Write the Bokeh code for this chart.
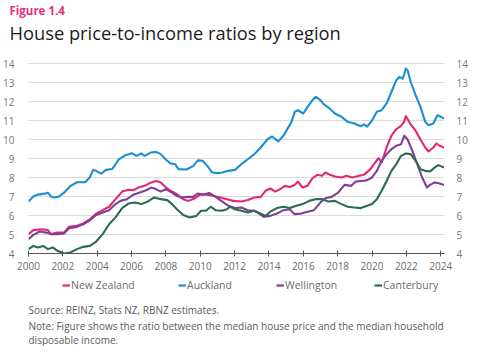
from bokeh.plotting import figure
from bokeh.layouts import column
from bokeh.models import (LinearAxis, FixedTicker, Title, Legend, LegendItem, Range1d, Label)
from bokeh.embed import file_html
from bokeh.resources import INLINE

# ---- data ----
auckland_x = [2000.0, 2000.28, 2000.56, 2000.94, 2001.13, 2001.31, 2001.5, 2001.78, 2002.07, 2002.44,
              2002.82, 2003.29, 2003.57, 2003.76, 2003.94, 2004.23, 2004.51, 2004.88, 2005.26, 2005.63,
              2006.01, 2006.29, 2006.57, 2006.76, 2007.14, 2007.42, 2007.7, 2007.98, 2008.26, 2008.54,
              2008.73, 2009.2, 2009.58, 2009.86, 2010.14, 2010.42, 2010.7, 2010.99, 2011.27, 2011.64,
              2012.02, 2012.39, 2012.77, 2013.15, 2013.52, 2013.9, 2014.18, 2014.55, 2014.84, 2015.1,
              2015.3, 2015.5, 2015.68, 2016.0, 2016.25, 2016.53, 2016.72, 2017.0, 2017.18, 2017.46,
              2017.84, 2018.22, 2018.59, 2018.97, 2019.35, 2019.53, 2019.72, 2020.0, 2020.28, 2020.56,
              2020.85, 2021.13, 2021.41, 2021.6, 2021.79, 2021.97, 2022.07, 2022.25, 2022.54, 2022.82,
              2023.1, 2023.29, 2023.57, 2023.81, 2024.0, 2024.19]
auckland_y = [6.74, 7.0, 7.1, 7.15, 7.2, 7.0, 6.95, 7.0, 7.2, 7.55,
              7.75, 7.75, 8.0, 8.4, 8.35, 8.2, 8.4, 8.45, 8.95, 9.17,
              9.28, 9.14, 9.26, 9.14, 9.32, 9.35, 9.23, 8.96, 8.74, 8.7,
              8.44, 8.42, 8.6, 8.9, 8.88, 8.6, 8.26, 8.23, 8.26, 8.35,
              8.4, 8.7, 8.96, 9.23, 9.58, 10.0, 10.16, 9.9, 10.2, 10.6,
              10.9, 11.45, 11.54, 11.37, 11.72, 12.07, 12.25, 12.07, 11.86, 11.68,
              11.37, 11.2, 10.93, 10.84, 10.7, 10.8, 10.68, 11.0, 11.46, 11.54,
              11.9, 12.5, 13.12, 13.3, 13.2, 13.74, 13.65, 13.04, 12.33, 11.72,
              10.93, 10.75, 10.84, 11.28, 11.2, 11.1]

nz_x = [2000.0, 2000.28, 2000.75, 2001.13, 2001.31, 2001.69, 2002.07, 2002.35, 2002.82, 2003.19,
        2003.57, 2003.94, 2004.32, 2004.69, 2005.07, 2005.45, 2005.82, 2006.1, 2006.39, 2006.76,
        2007.14, 2007.42, 2007.7, 2007.98, 2008.26, 2008.64, 2009.01, 2009.3, 2009.67, 2010.05,
        2010.42, 2010.8, 2011.17, 2011.55, 2011.92, 2012.39, 2012.77, 2013.15, 2013.52, 2013.8,
        2014.08, 2014.37, 2014.65, 2014.93, 2015.21, 2015.49, 2015.68, 2015.96, 2016.24, 2016.53,
        2016.81, 2017.09, 2017.28, 2017.56, 2017.84, 2018.22, 2018.5, 2018.87, 2019.25, 2019.53,
        2019.91, 2020.19, 2020.38, 2020.56, 2020.85, 2021.13, 2021.41, 2021.69, 2021.85, 2021.97,
        2022.25, 2022.54, 2022.82, 2023.1, 2023.29, 2023.57, 2023.76, 2023.94, 2024.19]
nz_y = [5.02, 5.23, 5.28, 5.23, 5.02, 5.1, 5.1, 5.4, 5.46, 5.58,
        5.8, 6.1, 6.28, 6.46, 6.86, 7.26, 7.35, 7.33, 7.47, 7.56,
        7.74, 7.82, 7.74, 7.5, 7.3, 7.12, 6.86, 6.77, 6.9, 7.12,
        7.09, 7.03, 6.95, 6.86, 6.77, 6.74, 6.82, 6.95, 6.98, 7.3,
        7.42, 7.26, 7.39, 7.56, 7.5, 7.6, 7.79, 7.47, 7.56, 7.96,
        8.14, 8.09, 8.26, 8.14, 8.05, 8.0, 8.09, 8.0, 8.09, 8.14,
        8.44, 8.79, 9.02, 8.79, 9.58, 10.2, 10.54, 10.72, 10.9, 11.23,
        10.8, 10.46, 10.0, 9.58, 9.37, 9.58, 9.79, 9.67, 9.58]

wellington_x = [2000.0, 2000.28, 2000.66, 2001.03, 2001.31, 2001.69, 2002.07, 2002.35, 2002.82, 2003.19,
                2003.57, 2003.94, 2004.32, 2004.69, 2005.07, 2005.35, 2005.73, 2006.1, 2006.48, 2006.85,
                2007.14, 2007.42, 2007.7, 2007.98, 2008.26, 2008.64, 2008.92, 2009.2, 2009.58, 2009.86,
                2010.14, 2010.52, 2010.89, 2011.27, 2011.64, 2012.02, 2012.39, 2012.77, 2013.15, 2013.43,
                2013.71, 2014.08, 2014.46, 2014.84, 2015.21, 2015.49, 2015.87, 2016.24, 2016.62, 2016.99,
                2017.28, 2017.65, 2018.03, 2018.4, 2018.78, 2019.06, 2019.44, 2019.72, 2020.0, 2020.28,
                2020.56, 2020.85, 2021.13, 2021.41, 2021.69, 2021.88, 2022.07, 2022.35, 2022.63, 2022.92,
                2023.2, 2023.38, 2023.66, 2023.94, 2024.19]
wellington_y = [4.75, 4.98, 5.16, 5.1, 5.02, 5.02, 5.05, 5.33, 5.4, 5.54,
                5.75, 6.03, 6.16, 6.28, 6.6, 6.77, 6.86, 7.09, 7.21, 7.33,
                7.47, 7.39, 7.26, 7.39, 7.26, 7.03, 6.95, 6.98, 6.98, 7.16,
                7.09, 7.19, 6.98, 6.74, 6.51, 6.39, 6.42, 6.28, 6.25, 6.1,
                5.93, 5.98, 6.1, 6.28, 6.33, 6.07, 6.1, 6.2, 6.28, 6.68,
                6.91, 6.98, 7.21, 7.61, 7.56, 7.79, 7.82, 7.86, 8.0, 8.35,
                8.88, 9.23, 9.49, 9.67, 9.75, 10.2, 10.0, 9.4, 8.7, 8.0,
                7.47, 7.61, 7.74, 7.68, 7.61]

canterbury_x = [2000.0, 2000.28, 2000.56, 2000.85, 2001.13, 2001.41, 2001.69, 2002.07, 2002.44, 2002.82,
                2003.19, 2003.57, 2003.94, 2004.32, 2004.69, 2005.07, 2005.45, 2005.82, 2006.2, 2006.57,
                2006.95, 2007.32, 2007.7, 2008.08, 2008.36, 2008.64, 2009.01, 2009.39, 2009.77, 2010.05,
                2010.33, 2010.61, 2010.89, 2011.27, 2011.55, 2011.74, 2012.02, 2012.39, 2012.77, 2013.15,
                2013.52, 2013.8, 2014.08, 2014.46, 2014.84, 2015.21, 2015.59, 2015.96, 2016.34, 2016.71,
                2017.09, 2017.46, 2017.84, 2018.22, 2018.59, 2018.97, 2019.34, 2019.72, 2020.0, 2020.28,
                2020.56, 2020.85, 2021.13, 2021.41, 2021.69, 2021.97, 2022.25, 2022.54, 2022.82, 2023.1,
                2023.38, 2023.66, 2023.85, 2024.0, 2024.19]
canterbury_y = [4.23, 4.4, 4.32, 4.4, 4.23, 4.32, 4.14, 4.0, 4.05, 4.23,
                4.35, 4.4, 4.63, 5.02, 5.54, 5.9, 6.39, 6.63, 6.68, 6.6,
                6.74, 6.95, 6.86, 6.81, 6.6, 6.33, 6.03, 5.9, 5.98, 6.25,
                6.25, 6.46, 6.28, 6.25, 6.33, 6.46, 6.33, 6.25, 6.16, 6.25,
                6.1, 5.98, 6.2, 6.39, 6.46, 6.39, 6.51, 6.6, 6.77, 6.86,
                6.86, 6.74, 6.77, 6.6, 6.46, 6.42, 6.39, 6.51, 6.6, 6.86,
                7.3, 7.82, 8.35, 8.7, 9.14, 9.26, 9.23, 8.88, 8.44, 8.35,
                8.32, 8.53, 8.65, 8.6, 8.53]

series_names = ["New Zealand", "Auckland", "Wellington", "Canterbury"]
series_colors = ["#e4286e", "#1b8fd2", "#7f3f98", "#2a6b55"]
x_ticks = list(range(2000, 2025, 2))
y_ticks = list(range(4, 15))

FONT = "Open Sans"
W = 470
H1, H2 = 272, 74
LEFT, RIGHT = 19, 21
Y_TOP = 15.0   # headroom above 14 keeps the titles clear of the grid

# ---------------- main chart ----------------
p = figure(width=W, height=H1, output_backend="svg", toolbar_location=None,
           x_range=Range1d(2000, 2024.22), y_range=Range1d(4, Y_TOP),
           min_border_left=LEFT, min_border_right=RIGHT,
           min_border_top=0, min_border_bottom=0,
           y_axis_location=None, x_axis_location=None)
p.outline_line_color = None
p.background_fill_color = "white"
p.border_fill_color = "white"

xs = [nz_x, auckland_x, wellington_x, canterbury_x]
ys = [nz_y, auckland_y, wellington_y, canterbury_y]
for xv, yv, c in zip(xs, ys, series_colors):
    p.line(xv, yv, line_color=c, line_width=2.1, line_join="round")

xaxis = LinearAxis(ticker=FixedTicker(ticks=x_ticks))
xaxis.axis_line_color = "#555555"
xaxis.axis_line_width = 1.2
xaxis.major_tick_line_color = "#555555"
xaxis.major_tick_in = 3
xaxis.major_tick_out = 3
xaxis.minor_tick_line_color = None
xaxis.major_label_text_font = FONT
xaxis.major_label_text_font_size = "10px"
xaxis.major_label_text_color = "#6b6b6b"
xaxis.major_label_standoff = 5
p.add_layout(xaxis, "below")

for side, standoff in (("left", 8), ("right", 6)):
    ax = LinearAxis(ticker=FixedTicker(ticks=y_ticks))
    ax.axis_line_color = None
    ax.major_tick_line_color = None
    ax.minor_tick_line_color = None
    ax.major_label_text_font = FONT
    ax.major_label_text_font_size = "10px"
    ax.major_label_text_color = "#777777"
    ax.major_label_standoff = standoff
    p.add_layout(ax, side)

p.xgrid.visible = False
p.ygrid.ticker = FixedTicker(ticks=y_ticks[1:])
p.ygrid.grid_line_color = "#dcdcdc"
p.ygrid.grid_line_width = 1

def make_title(txt, size, color, style="normal"):
    return Title(text=txt, text_font=FONT, text_font_size=size, text_color=color,
                 text_font_style=style, align="left", offset=-LEFT, standoff=0)

p.add_layout(make_title("House price-to-income ratios by region", "18.3px", "#1c1c1c"), "above")
p.add_layout(make_title("Figure 1.4", "11.5px", "#e3307b", "bold"), "above")

# ---------------- legend + notes strip ----------------
q = figure(width=W, height=H2, output_backend="svg", toolbar_location=None,
           x_range=Range1d(0, 1), y_range=Range1d(0, 1),
           min_border=0, x_axis_location=None, y_axis_location=None)
q.outline_line_color = None
q.xgrid.visible = False
q.ygrid.visible = False
q.background_fill_color = "white"
q.border_fill_color = "white"

# legend swatches: same series, lying outside this strip's view (only their key glyphs show)
swatches = [q.line(xv, yv, line_color=c, line_width=2.2) for xv, yv, c in zip(xs, ys, series_colors)]
legend_x = [34, 150, 248, 346]
for n, r, lx in zip(series_names, swatches, legend_x):
    q.add_layout(Legend(items=[LegendItem(label=n, renderers=[r])],
                        orientation="horizontal", location=(lx, 54),
                        glyph_width=8, glyph_height=10, label_standoff=1,
                        padding=0, margin=0, border_line_color=None, background_fill_alpha=0,
                        label_text_font=FONT, label_text_font_size="10.5px",
                        label_text_color="#6b6b6b", label_height=10), "center")

note_lines = ["Source: REINZ, Stats NZ, RBNZ estimates.",
              "Note: Figure shows the ratio between the median house price and the median household",
              "disposable income."]
note_y = [37, 21, 7]
for txt, yy in zip(note_lines, note_y):
    q.add_layout(Label(x=0, y=yy, x_units="screen", y_units="screen", text=txt,
                       text_font=FONT, text_font_size="10px", text_color="#5a5a5a",
                       text_baseline="alphabetic", text_align="left"))

layout = column(p, q, spacing=0)
open("out.html", "w").write(file_html(layout, INLINE))
